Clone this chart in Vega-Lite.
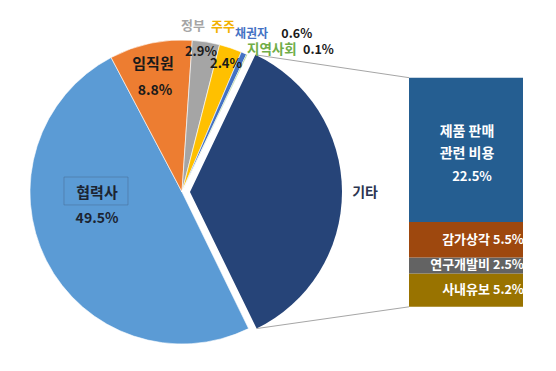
{
  "$schema": "https://vega.github.io/schema/vega-lite/v6.json",
  "width": 556,
  "height": 371,
  "padding": 0,
  "autosize": {"type": "none"},
  "background": "white",
  "config": {"view": {"stroke": null}, "axis": {"disable": true}, "legend": {"disable": true}, "text": {"font": "Noto Sans CJK KR", "fontWeight": "bold"}},
  "datasets": {
    "pie": [
      {"name": "협력사", "share": 0.495, "ord": 1},
      {"name": "임직원", "share": 0.088, "ord": 2},
      {"name": "정부", "share": 0.029, "ord": 3},
      {"name": "주주", "share": 0.024, "ord": 4},
      {"name": "채권자", "share": 0.006, "ord": 5},
      {"name": "지역사회", "share": 0.001, "ord": 6},
      {"name": "기타", "share": 0.357, "ord": 7}
    ],
    "other": [
      {"group": "기타", "item": "사내유보", "share": 0.052, "ord": 1},
      {"group": "기타", "item": "연구개발비", "share": 0.025, "ord": 2},
      {"group": "기타", "item": "감가상각", "share": 0.055, "ord": 3},
      {"group": "기타", "item": "제품 판매\n관련 비용", "share": 0.225, "ord": 4}
    ]
  },
  "resolve": {"scale": {"x": "independent"}},
  "layer": [
    {
      "data": {"name": "pie"},
      "layer": [
        {
          "transform": [
            {"stack": "share", "groupby": [], "sort": [{"field": "ord", "order": "ascending"}], "as": ["s0", "s1"]},
            {"filter": "datum.name !== '기타'"}
          ],
          "mark": {"type": "arc", "radius": 152, "stroke": "white", "strokeWidth": 0.6},
          "encoding": {
            "x": {"datum": 32.73, "type": "quantitative", "stack": null, "scale": {"domain": [0, 100], "nice": false, "zero": false}},
            "y": {"datum": 0.1789, "type": "quantitative", "scale": {"domain": [-0.1, 0.478], "nice": false, "zero": false}},
            "theta": {"field": "s0", "type": "quantitative", "scale": {"domain": [0, 1], "range": [2.688, 8.971], "zero": false, "nice": false}},
            "theta2": {"field": "s1"},
            "color": {"field": "name", "type": "nominal", "scale": {"domain": ["협력사", "임직원", "정부", "주주", "채권자", "지역사회", "기타", "사내유보", "연구개발비", "감가상각", "제품 판매\n관련 비용"], "range": ["#5B9BD5", "#ED7D31", "#A5A5A5", "#FFC000", "#4472C4", "#70AD47", "#264478", "#997300", "#636363", "#9E480E", "#255E91"]}}
          }
        },
        {
          "transform": [
            {"stack": "share", "groupby": [], "sort": [{"field": "ord", "order": "ascending"}], "as": ["s0", "s1"]},
            {"filter": "datum.name === '기타'"}
          ],
          "mark": {"type": "arc", "radius": 152},
          "encoding": {
            "x": {"datum": 34.17, "type": "quantitative", "stack": null},
            "y": {"datum": 0.1789, "type": "quantitative"},
            "theta": {"field": "s0", "type": "quantitative"},
            "theta2": {"field": "s1"},
            "color": {"field": "name", "type": "nominal"}
          }
        },
        {
          "mark": {"type": "rule", "color": "#a6a6a6", "strokeWidth": 1},
          "transform": [{"filter": "datum.name === '기타'"}],
          "encoding": {
            "x": {"datum": 45.94, "type": "quantitative"},
            "y": {"datum": 0.3926, "type": "quantitative"},
            "x2": {"datum": 73.56},
            "y2": {"datum": 0.357}
          }
        },
        {
          "mark": {"type": "rule", "color": "#a6a6a6", "strokeWidth": 1},
          "transform": [{"filter": "datum.name === '기타'"}],
          "encoding": {
            "x": {"datum": 46.15, "type": "quantitative"},
            "y": {"datum": -0.0339, "type": "quantitative"},
            "x2": {"datum": 73.56},
            "y2": {"datum": 0}
          }
        },
        {
          "mark": {"type": "rect", "fill": null, "fillOpacity": 0, "stroke": "#4a6f96", "strokeWidth": 0.8, "strokeOpacity": 0.7},
          "transform": [{"filter": "datum.name === '협력사'"}],
          "encoding": {
            "x": {"datum": 11.51, "type": "quantitative"},
            "x2": {"datum": 23.02},
            "y": {"datum": 0.2022, "type": "quantitative"},
            "y2": {"datum": 0.1587}
          }
        },
        {
          "mark": {"type": "text", "fontSize": 15, "color": "#1c2431"},
          "transform": [{"filter": "datum.name === '협력사'"}],
          "encoding": {"x": {"datum": 17.45, "type": "quantitative"}, "y": {"datum": 0.1773, "type": "quantitative"}, "text": {"field": "name"}}
        },
        {
          "mark": {"type": "text", "fontSize": 14, "color": "#1c2431"},
          "transform": [{"filter": "datum.name === '협력사'"}],
          "encoding": {"x": {"datum": 17.45, "type": "quantitative"}, "y": {"datum": 0.1368, "type": "quantitative"}, "text": {"field": "share", "type": "quantitative", "format": ".1%"}}
        },
        {
          "mark": {"type": "text", "fontSize": 15, "color": "#1a1a1a"},
          "transform": [{"filter": "datum.name === '임직원'"}],
          "encoding": {"x": {"datum": 27.52, "type": "quantitative"}, "y": {"datum": 0.3783, "type": "quantitative"}, "text": {"field": "name"}}
        },
        {
          "mark": {"type": "text", "fontSize": 14, "color": "#1a1a1a"},
          "transform": [{"filter": "datum.name === '임직원'"}],
          "encoding": {"x": {"datum": 27.88, "type": "quantitative"}, "y": {"datum": 0.3362, "type": "quantitative"}, "text": {"field": "share", "type": "quantitative", "format": ".1%"}}
        },
        {
          "mark": {"type": "text", "fontSize": 13, "color": "#A5A5A5"},
          "transform": [{"filter": "datum.name === '정부'"}],
          "encoding": {"x": {"datum": 34.71, "type": "quantitative"}, "y": {"datum": 0.4375, "type": "quantitative"}, "text": {"field": "name"}}
        },
        {
          "mark": {"type": "text", "fontSize": 13, "color": "#1a1a1a"},
          "transform": [{"filter": "datum.name === '정부'"}],
          "encoding": {"x": {"datum": 36.15, "type": "quantitative"}, "y": {"datum": 0.3970, "type": "quantitative"}, "text": {"field": "share", "type": "quantitative", "format": ".1%"}}
        },
        {
          "mark": {"type": "text", "fontSize": 13, "color": "#F2B100"},
          "transform": [{"filter": "datum.name === '주주'"}],
          "encoding": {"x": {"datum": 40.11, "type": "quantitative"}, "y": {"datum": 0.4359, "type": "quantitative"}, "text": {"field": "name"}}
        },
        {
          "mark": {"type": "text", "fontSize": 13, "color": "#1a1a1a"},
          "transform": [{"filter": "datum.name === '주주'"}],
          "encoding": {"x": {"datum": 40.65, "type": "quantitative"}, "y": {"datum": 0.3782, "type": "quantitative"}, "text": {"field": "share", "type": "quantitative", "format": ".1%"}}
        },
        {
          "mark": {"type": "text", "fontSize": 12, "color": "#4472C4", "align": "left"},
          "transform": [{"filter": "datum.name === '채권자'"}],
          "encoding": {"x": {"datum": 42.27, "type": "quantitative"}, "y": {"datum": 0.4250, "type": "quantitative"}, "text": {"field": "name"}}
        },
        {
          "mark": {"type": "text", "fontSize": 12.5, "color": "#1a1a1a", "align": "left"},
          "transform": [{"filter": "datum.name === '채권자'"}],
          "encoding": {"x": {"datum": 50.6, "type": "quantitative"}, "y": {"datum": 0.4250, "type": "quantitative"}, "text": {"field": "share", "type": "quantitative", "format": ".1%"}}
        },
        {
          "mark": {"type": "text", "fontSize": 13.5, "color": "#70AD47", "align": "left"},
          "transform": [{"filter": "datum.name === '지역사회'"}],
          "encoding": {"x": {"datum": 44.42, "type": "quantitative"}, "y": {"datum": 0.4001, "type": "quantitative"}, "text": {"field": "name"}}
        },
        {
          "mark": {"type": "text", "fontSize": 12.5, "color": "#1a1a1a", "align": "left"},
          "transform": [{"filter": "datum.name === '지역사회'"}],
          "encoding": {"x": {"datum": 54.5, "type": "quantitative"}, "y": {"datum": 0.4001, "type": "quantitative"}, "text": {"field": "share", "type": "quantitative", "format": ".1%"}}
        },
        {
          "mark": {"type": "text", "fontSize": 14, "color": "#2b3550"},
          "transform": [{"filter": "datum.name === '기타'"}],
          "encoding": {"x": {"datum": 65.65, "type": "quantitative"}, "y": {"datum": 0.1773, "type": "quantitative"}, "text": {"field": "name"}}
        }
      ]
    },
    {
      "data": {"name": "other"},
      "layer": [
        {
          "mark": {"type": "bar", "width": 114},
          "encoding": {
            "x": {"field": "group", "type": "nominal", "scale": {"type": "band", "paddingInner": 0, "paddingOuter": 0, "range": [409, 523]}},
            "y": {"field": "share", "type": "quantitative", "stack": "zero"},
            "order": {"field": "ord", "type": "quantitative"},
            "color": {"field": "item", "type": "nominal"}
          }
        },
        {
          "mark": {"type": "text", "fontSize": 13, "color": "white", "align": "right", "dx": 24},
          "encoding": {
            "x": {"field": "group", "type": "nominal"},
            "y": {"field": "share", "type": "quantitative", "stack": "zero", "bandPosition": 0.5},
            "order": {"field": "ord", "type": "quantitative"},
            "text": {"condition": {"test": "datum.ord !== 4", "field": "item"}, "value": ""}
          }
        },
        {
          "mark": {"type": "text", "fontSize": 12.5, "color": "white", "align": "left", "dx": 27},
          "encoding": {
            "x": {"field": "group", "type": "nominal"},
            "y": {"field": "share", "type": "quantitative", "stack": "zero", "bandPosition": 0.5},
            "order": {"field": "ord", "type": "quantitative"},
            "text": {"condition": {"test": "datum.ord !== 4", "field": "share", "type": "quantitative", "format": ".1%"}, "value": ""}
          }
        },
        {
          "mark": {"type": "text", "fontSize": 14, "color": "white", "lineBreak": "\n", "lineHeight": 22, "dx": 1, "dy": -18},
          "encoding": {
            "x": {"field": "group", "type": "nominal"},
            "y": {"field": "share", "type": "quantitative", "stack": "zero", "bandPosition": 0.5},
            "order": {"field": "ord", "type": "quantitative"},
            "text": {"condition": {"test": "datum.ord === 4", "field": "item"}, "value": ""}
          }
        },
        {
          "mark": {"type": "text", "fontSize": 13, "color": "white", "dx": 6, "dy": 27},
          "encoding": {
            "x": {"field": "group", "type": "nominal"},
            "y": {"field": "share", "type": "quantitative", "stack": "zero", "bandPosition": 0.5},
            "order": {"field": "ord", "type": "quantitative"},
            "text": {"condition": {"test": "datum.ord === 4", "field": "share", "type": "quantitative", "format": ".1%"}, "value": ""}
          }
        }
      ]
    }
  ]
}
